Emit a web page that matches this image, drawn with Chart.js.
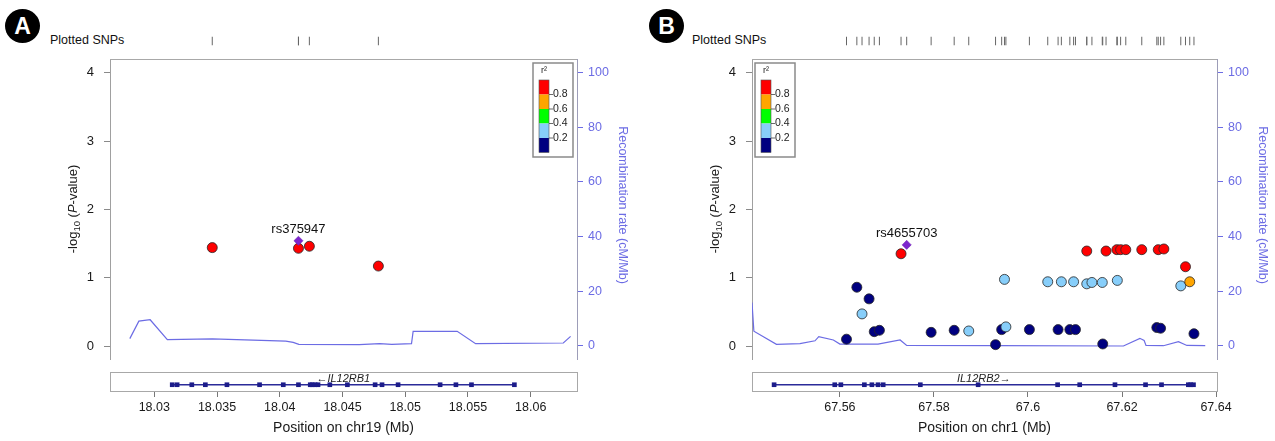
<!DOCTYPE html>
<html>
<head>
<meta charset="utf-8">
<script src="https://cdn.jsdelivr.net/npm/chart.js@4.4.0/dist/chart.umd.min.js"></script>
<style>
  body { margin: 0; background: #fff; width: 1275px; height: 441px; position: relative; overflow: hidden;
         font-family: "Liberation Sans", Arial, sans-serif; }
  canvas { position: absolute; }
  .badge { position: absolute; width: 35px; height: 34px; border-radius: 50%; background: #000; color: #fff;
           font: bold 23px "Liberation Sans", Arial, sans-serif; text-align: center; line-height: 35px; }
  .snplab { position: absolute; font-size: 12.5px; line-height: 15px; color: #111; }
</style>
</head>
<body>
<div class="badge" style="left:5px;top:9px">A</div>
<div class="badge" style="left:649px;top:9px">B</div>
<div class="snplab" style="left:50px;top:33px">Plotted SNPs</div>
<div class="snplab" style="left:692px;top:33px">Plotted SNPs</div>

<script>
// ---------- shared ----------
const r2Breaks = [0.2, 0.4, 0.6, 0.8];
const r2Colors = ['#000080', '#87cefa', '#00ff00', '#ffa500', '#ff0000'];
const yTicks = [0, 1, 2, 3, 4];
const recTicks = [0, 20, 40, 60, 80, 100];

// ---------- panel A : chr19, IL12RB1 ----------
const chrA = 'chr19';
const xTicksA = [18.03, 18.035, 18.04, 18.045, 18.05, 18.055, 18.06];
const snpPosA = [18.03462, 18.04149, 18.04236, 18.04786];
const snpLogPA = [1.44, 1.43, 1.46, 1.17];
const snpR2A = [0.95, 0.95, 0.95, 0.95];
const leadNameA = 'rs375947';
const leadPosA = 18.04149;
const leadLogPA = 1.54;
const recPosA = [18.02805, 18.02877, 18.02967, 18.03104, 18.03462, 18.04048, 18.04107, 18.04152, 18.04634,
                 18.04796, 18.04893, 18.05050, 18.05063, 18.05414, 18.05561, 18.06260, 18.06318];
const recRateA = [2.7, 9.1, 9.6, 2.3, 2.6, 1.8, 1.3, 0.6, 0.5, 0.85, 0.6, 0.85, 5.35, 5.35, 0.85, 1.1, 3.5];
const geneNameA = 'IL12RB1';
const geneStrandA = -1;
const geneStartA = 18.03143;
const geneEndA = 18.05870;
const exonsA = [18.03143, 18.03182, 18.03299, 18.03407, 18.03579, 18.03839, 18.04028, 18.04149, 18.04243,
                18.04259, 18.04282, 18.04305, 18.04399, 18.04539, 18.04760, 18.04815, 18.04943, 18.05278,
                18.05404, 18.05528, 18.05870];

// ---------- panel B : chr1, IL12RB2 ----------
const chrB = 'chr1';
const xTicksB = [67.56, 67.58, 67.6, 67.62, 67.64];
const snpPosB = [67.5614, 67.5636, 67.5662, 67.5673, 67.5684, 67.5794, 67.5843, 67.5931, 67.5944, 67.6003,
                 67.6064, 67.6089, 67.6101, 67.6159, 67.6274, 67.6282, 67.6353,
                 67.5647, 67.5874, 67.5950, 67.5953, 67.6042, 67.6071, 67.6097, 67.6125, 67.6136, 67.6158,
                 67.6190, 67.6325,
                 67.6344,
                 67.5730, 67.6125, 67.6166, 67.6189, 67.6197, 67.6208, 67.6242, 67.6277, 67.6289, 67.6335];
const snpLogPB = [0.10, 0.86, 0.69, 0.21, 0.23, 0.20, 0.23, 0.02, 0.24, 0.24,
                  0.24, 0.24, 0.24, 0.03, 0.27, 0.26, 0.18,
                  0.47, 0.22, 0.975, 0.28, 0.94, 0.94, 0.94, 0.91, 0.93, 0.93,
                  0.96, 0.88,
                  0.94,
                  1.35, 1.39, 1.39, 1.41, 1.41, 1.41, 1.41, 1.41, 1.42, 1.16];
const snpR2B = [0.1, 0.1, 0.1, 0.1, 0.1, 0.1, 0.1, 0.1, 0.1, 0.1,
                0.1, 0.1, 0.1, 0.1, 0.1, 0.1, 0.1,
                0.3, 0.3, 0.3, 0.3, 0.3, 0.3, 0.3, 0.3, 0.3, 0.3,
                0.3, 0.3,
                0.7,
                0.9, 0.9, 0.9, 0.9, 0.9, 0.9, 0.9, 0.9, 0.9, 0.9];
const leadNameB = 'rs4655703';
const leadPosB = 67.5742;
const leadLogPB = 1.48;
const recPosB = [67.5413, 67.5417, 67.5465, 67.5515, 67.5547, 67.5555, 67.5586, 67.5600, 67.5681, 67.5728,
                 67.5742, 67.5940, 67.6203, 67.6238, 67.6247, 67.6251, 67.6288, 67.6320, 67.6338, 67.6377];
const recRateB = [15.9, 5.4, 0.6, 0.9, 1.9, 3.4, 2.2, 0.7, 0.7, 2.2, 0.2, 0.1, 0, 2.8, 2.0, 0.2, 0.1, 1.6, 0.2, 0.1];
const geneNameB = 'IL12RB2';
const geneStrandB = 1;
const geneStartB = 67.5460;
const geneEndB = 67.6352;
const exonsB = [67.5460, 67.5589, 67.5602, 67.5652, 67.5668, 67.5681, 67.5692, 67.5771, 67.5894, 67.6063,
                67.6110, 67.6185, 67.6250, 67.6284, 67.6341, 67.6346, 67.6352];

// ---------- drawing ----------
const FONT = '"Liberation Sans", Arial, sans-serif';
const REC_COLOR = '#6c6ce4';
Chart.defaults.font.family = FONT;

function r2Color(r) {
  let i = 0;
  while (i < r2Breaks.length && r >= r2Breaks[i]) i++;
  return r2Colors[i];
}

function makeCanvas(left, top, w, h) {
  const c = document.createElement('canvas');
  c.width = w; c.height = h;
  c.style.left = left + 'px'; c.style.top = top + 'px';
  c.style.width = w + 'px'; c.style.height = h + 'px';
  document.body.appendChild(c);
  return c;
}

// mixed-font text centred at (0,0), used for the rotated y title
function drawRuns(ctx, runs) {
  let total = 0;
  runs.forEach(r => { ctx.font = r.font; r.w = ctx.measureText(r.t).width; total += r.w; });
  let x = -total / 2;
  runs.forEach(r => {
    ctx.font = r.font;
    ctx.fillText(r.t, x, r.dy || 0);
    x += r.w;
  });
}

const mainDeco = {
  id: 'mainDeco',
  afterDraw(chart, args, o) {
    const { ctx, chartArea: a, scales } = chart;
    ctx.save();
    // top frame line
    ctx.strokeStyle = '#a8a8a8'; ctx.lineWidth = 1;
    ctx.beginPath(); ctx.moveTo(a.left, a.top + 0.5); ctx.lineTo(a.right, a.top + 0.5); ctx.stroke();

    // lead snp name
    ctx.fillStyle = '#111';
    ctx.font = '13px ' + FONT;
    ctx.textAlign = 'center'; ctx.textBaseline = 'bottom';
    ctx.fillText(o.leadName, scales.x.getPixelForValue(o.leadPos), scales.y.getPixelForValue(o.leadLogP) - 5);

    // r2 legend
    const bx = o.legendSide === 'right' ? a.right - 44 : a.left + 3;
    const by = a.top + 4;
    ctx.fillStyle = '#fff';
    ctx.fillRect(bx, by, 40, 94);
    ctx.strokeStyle = '#8a8a8a'; ctx.lineWidth = 1.5;
    ctx.strokeRect(bx, by, 40, 94);
    const cx = bx + 6, cw = 10, ch = 14.5, cy = by + 17;
    for (let i = 0; i < r2Colors.length; i++) {
      ctx.fillStyle = r2Colors[r2Colors.length - 1 - i];
      ctx.fillRect(cx, cy + i * ch, cw, ch);
    }
    ctx.strokeStyle = '#555'; ctx.lineWidth = 0.6;
    ctx.strokeRect(cx, cy, cw, ch * r2Colors.length);
    ctx.fillStyle = '#222';
    ctx.font = '10.5px ' + FONT;
    ctx.textAlign = 'left'; ctx.textBaseline = 'middle';
    const labs = r2Breaks.slice().reverse();
    labs.forEach((v, i) => {
      const yy = cy + (i + 1) * ch;
      ctx.strokeStyle = '#444'; ctx.lineWidth = 0.8;
      ctx.beginPath(); ctx.moveTo(cx + cw, yy); ctx.lineTo(cx + cw + 4, yy); ctx.stroke();
      ctx.fillText(v.toFixed(1), cx + cw + 4, yy);
    });
    ctx.textAlign = 'center';
    ctx.font = '9px ' + FONT;
    ctx.fillText('r²', cx + cw / 2, by + 8);

    // left title
    const midY = (a.top + a.bottom) / 2;
    ctx.save();
    ctx.translate(a.left - 37, midY);
    ctx.rotate(-Math.PI / 2);
    ctx.fillStyle = '#1a1a1a';
    ctx.textAlign = 'left'; ctx.textBaseline = 'middle';
    drawRuns(ctx, [
      { t: '-log', font: '13px ' + FONT },
      { t: '10', font: '9.5px ' + FONT, dy: 4 },
      { t: ' (', font: '13px ' + FONT },
      { t: 'P', font: 'italic 13px ' + FONT },
      { t: '-value)', font: '13px ' + FONT }
    ]);
    ctx.restore();

    // right title
    ctx.save();
    ctx.translate(a.right + 45, midY - 4);
    ctx.rotate(Math.PI / 2);
    ctx.fillStyle = REC_COLOR;
    ctx.font = '12.5px ' + FONT;
    ctx.textAlign = 'center'; ctx.textBaseline = 'middle';
    ctx.fillText('Recombination rate (cM/Mb)', 0, 0);
    ctx.restore();

    ctx.restore();
  }
};

const geneDeco = {
  id: 'geneDeco',
  afterDraw(chart, args, o) {
    const { ctx, chartArea: a, scales } = chart;
    ctx.save();
    ctx.strokeStyle = '#a8a8a8'; ctx.lineWidth = 1;
    ctx.strokeRect(a.left + 0.5, a.top + 0.5, a.right - a.left, a.bottom - a.top);
    const label = o.strand < 0 ? '\u2190' + o.name : o.name + '\u2192';
    ctx.fillStyle = '#222';
    ctx.font = 'italic 11px ' + FONT;
    ctx.textAlign = 'center'; ctx.textBaseline = 'middle';
    ctx.fillText(label, scales.x.getPixelForValue((o.start + o.end) / 2), a.top + 6.5);
    ctx.restore();
  }
};

function panel(p) {
  const W = p.width;
  const left = p.chartLeft, right = W - p.chartRight;
  const xRange = { min: p.xMin, max: p.xMax };

  // plotted SNP ticks row
  const allPos = p.snpPos.concat([p.leadPos]);
  new Chart(makeCanvas(p.offset, 31, W, 20), {
    type: 'scatter',
    data: { datasets: [{
      data: allPos.map(v => ({ x: v, y: 0.5 })),
      pointStyle: 'line', rotation: 90, pointRadius: 4.5, borderColor: '#666', borderWidth: 1
    }] },
    options: {
      responsive: false, animation: false, devicePixelRatio: 1, events: [],
      layout: { padding: { left: left, right: right, top: 0, bottom: 0 } },
      plugins: { legend: { display: false }, tooltip: { enabled: false } },
      scales: { x: { type: 'linear', display: false, ...xRange }, y: { display: false, min: 0, max: 1 } }
    }
  });

  // association plot
  const order = p.snpR2.map((r, i) => i).sort((i, j) => p.snpR2[i] - p.snpR2[j]);
  new Chart(makeCanvas(p.offset, 50, W, 320), {
    type: 'scatter',
    data: { datasets: [
      {
        type: 'line', yAxisID: 'y2', order: 3,
        data: p.recPos.map((v, i) => ({ x: v, y: p.recRate[i] })),
        borderColor: REC_COLOR, borderWidth: 1.2, pointRadius: 0, fill: false, tension: 0
      },
      {
        yAxisID: 'y', order: 2,
        data: order.map(i => ({ x: p.snpPos[i], y: p.snpLogP[i] })),
        pointRadius: 5, pointBackgroundColor: order.map(i => r2Color(p.snpR2[i])),
        pointBorderColor: 'rgba(40,40,40,0.9)', pointBorderWidth: 0.9
      },
      {
        yAxisID: 'y', order: 1,
        data: [{ x: p.leadPos, y: p.leadLogP }],
        pointStyle: 'rectRot', pointRadius: 4.6, pointBackgroundColor: '#7d26cd',
        pointBorderColor: '#6a1fb0', pointBorderWidth: 0.5
      }
    ] },
    options: {
      responsive: false, animation: false, devicePixelRatio: 1, events: [],
      layout: { padding: { left: 0, right: 0, top: 9, bottom: 11 } },
      plugins: {
        legend: { display: false }, tooltip: { enabled: false },
        mainDeco: { leadName: p.leadName, leadPos: p.leadPos, leadLogP: p.leadLogP, legendSide: p.legendSide }
      },
      scales: {
        x: { type: 'linear', display: false, ...xRange },
        y: {
          position: 'left', min: -0.19, max: 4.2,
          afterBuildTicks: s => { s.ticks = yTicks.map(v => ({ value: v })); },
          afterFit: s => { s.width = left; s.paddingTop = 0; s.paddingBottom = 0; },
          ticks: { color: '#1a1a1a', font: { size: 13 }, padding: 10, callback: v => String(v) },
          grid: { drawOnChartArea: false, drawTicks: true, tickLength: 6, tickColor: '#8a8a8a' },
          border: { display: true, color: '#a0a0a0', width: 1 }
        },
        y2: {
          position: 'right', min: -4.76, max: 105,
          afterBuildTicks: s => { s.ticks = recTicks.map(v => ({ value: v })); },
          afterFit: s => { s.width = right; s.paddingTop = 0; s.paddingBottom = 0; },
          ticks: { color: REC_COLOR, font: { size: 12.5 }, padding: 5, callback: v => String(v) },
          grid: { drawOnChartArea: false, drawTicks: true, tickLength: 6, tickColor: REC_COLOR },
          border: { display: true, color: '#9d9db8', width: 1 }
        }
      }
    },
    plugins: [mainDeco]
  });

  // gene track + position axis
  new Chart(makeCanvas(p.offset, 365, W, 76), {
    type: 'scatter',
    data: { datasets: [
      {
        type: 'line', order: 2,
        data: [{ x: p.geneStart, y: 0.33 }, { x: p.geneEnd, y: 0.33 }],
        borderColor: '#2b2b99', borderWidth: 1.4, pointRadius: 0
      },
      {
        order: 1,
        data: p.exons.map(v => ({ x: v, y: 0.33 })),
        pointStyle: 'rect', pointRadius: 3.3, pointBackgroundColor: '#1c1c8a', pointBorderWidth: 0
      }
    ] },
    options: {
      responsive: false, animation: false, devicePixelRatio: 1, events: [],
      layout: { padding: { left: left, right: right, top: 7, bottom: 0 } },
      plugins: {
        legend: { display: false }, tooltip: { enabled: false },
        geneDeco: { name: p.geneName, strand: p.geneStrand, start: p.geneStart, end: p.geneEnd }
      },
      scales: {
        x: {
          type: 'linear', position: 'bottom', ...xRange,
          afterBuildTicks: s => { s.ticks = p.xTicks.map(v => ({ value: v })); },
          afterFit: s => { s.height = 50; s.paddingLeft = 0; s.paddingRight = 0; },
          ticks: { color: '#1a1a1a', font: { size: 12.5 }, padding: 3, maxRotation: 0, autoSkip: false,
                   callback: v => String(v) },
          grid: { drawOnChartArea: false, drawTicks: true, tickLength: 6, tickColor: '#777' },
          border: { display: false },
          title: { display: true, text: 'Position on ' + p.chr + ' (Mb)', color: '#1a1a1a',
                   font: { size: 14 }, padding: { top: 4, bottom: 4 } }
        },
        y: { display: false, min: 0, max: 1 }
      }
    },
    plugins: [geneDeco]
  });
}

panel({
  offset: 0, width: 640, chartLeft: 110, chartRight: 577, xMin: 18.02647, xMax: 18.06369,
  chr: chrA, xTicks: xTicksA, snpPos: snpPosA, snpLogP: snpLogPA, snpR2: snpR2A,
  leadName: leadNameA, leadPos: leadPosA, leadLogP: leadLogPA,
  recPos: recPosA, recRate: recRateA, legendSide: 'right',
  geneName: geneNameA, geneStrand: geneStrandA, geneStart: geneStartA, geneEnd: geneEndA, exons: exonsA
});

panel({
  offset: 640, width: 635, chartLeft: 112, chartRight: 577, xMin: 67.5413, xMax: 67.6402,
  chr: chrB, xTicks: xTicksB, snpPos: snpPosB, snpLogP: snpLogPB, snpR2: snpR2B,
  leadName: leadNameB, leadPos: leadPosB, leadLogP: leadLogPB,
  recPos: recPosB, recRate: recRateB, legendSide: 'left',
  geneName: geneNameB, geneStrand: geneStrandB, geneStart: geneStartB, geneEnd: geneEndB, exons: exonsB
});
</script>
</body>
</html>
